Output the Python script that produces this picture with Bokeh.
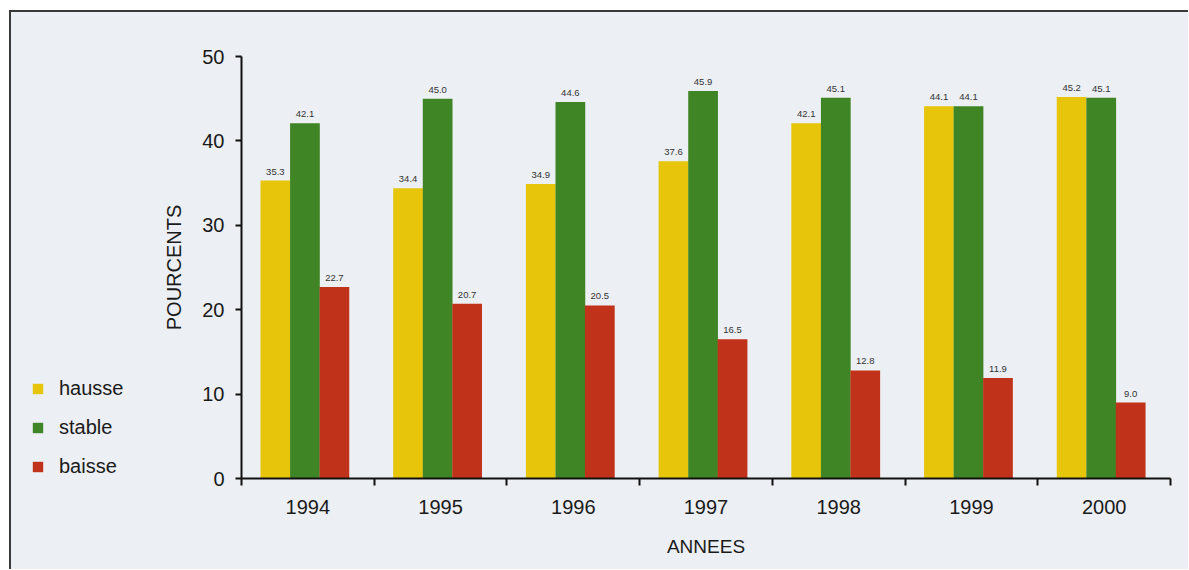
from bokeh.plotting import figure
from bokeh.layouts import row
from bokeh.models import ColumnDataSource, Range1d, FixedTicker, Legend, LegendItem
from bokeh.core.properties import value
from bokeh.embed import file_html
from bokeh.resources import INLINE

years = ["1994", "1995", "1996", "1997", "1998", "1999", "2000"]
series = ["hausse", "stable", "baisse"]
hausse = [35.3, 34.4, 34.9, 37.6, 42.1, 44.1, 45.2]
stable = [42.1, 45.0, 44.6, 45.9, 45.1, 44.1, 45.1]
baisse = [22.7, 20.7, 20.5, 16.5, 12.8, 11.9, 9.0]
y_ticks = [0, 10, 20, 30, 40, 50]

colors = ["#e6c50a", "#3f8526", "#c1321a"]
offsets = [-0.245, -0.022, 0.2]
bar_w = 0.224
FONT = "Liberation Sans"
BG = "#eceff3"
H = 557
LEG_W = 149

# ---------------- main chart ----------------
p = figure(width=1177 - LEG_W, height=H, output_backend="svg", toolbar_location=None,
           x_range=Range1d(0, len(years)), y_range=Range1d(0, 50),
           min_border_left=78, min_border_right=18, min_border_top=44, min_border_bottom=91)
p.background_fill_color = BG
p.border_fill_color = BG
p.outline_line_color = None
p.grid.visible = False

centers = [i + 0.5 for i in range(len(years))]
for vals, col, off in zip([hausse, stable, baisse], colors, offsets):
    src = ColumnDataSource(dict(x=[c + off for c in centers], top=vals,
                                label=["%.1f" % v for v in vals]))
    p.vbar(x="x", top="top", bottom=0, width=bar_w, source=src,
           fill_color=col, line_color=None)
    p.text(x="x", y="top", text="label", source=src, text_align="center",
           text_baseline="alphabetic", y_offset=-9, text_font_size="9.5px",
           text_font=value(FONT), text_color="#333333")

xa = p.xaxis[0]
xa.ticker = FixedTicker(ticks=centers, minor_ticks=list(range(len(years) + 1)))
xa.major_label_overrides = {c: y for c, y in zip(centers, years)}
xa.major_tick_line_color = None
xa.major_tick_out = 6
xa.major_tick_in = 0
xa.minor_tick_out = 7
xa.minor_tick_in = 0
xa.minor_tick_line_color = "#111111"
xa.minor_tick_line_width = 2
xa.axis_line_color = "#111111"
xa.axis_line_width = 2
xa.major_label_text_font = FONT
xa.major_label_text_font_size = "20px"
xa.major_label_text_color = "#1a1a1a"
xa.major_label_standoff = 14
xa.axis_label = "ANNEES"
xa.axis_label_text_font = FONT
xa.axis_label_text_font_size = "19px"
xa.axis_label_text_font_style = "normal"
xa.axis_label_text_color = "#1a1a1a"
xa.axis_label_standoff = 19

ya = p.yaxis[0]
ya.ticker = FixedTicker(ticks=y_ticks)
ya.minor_tick_line_color = None
ya.major_tick_out = 6
ya.major_tick_in = 0
ya.major_tick_line_color = "#111111"
ya.major_tick_line_width = 2
ya.axis_line_color = "#111111"
ya.axis_line_width = 2
ya.major_label_text_font = FONT
ya.major_label_text_font_size = "20px"
ya.major_label_text_color = "#1a1a1a"
ya.major_label_standoff = 11
ya.axis_label = "POURCENTS"
ya.axis_label_text_font = FONT
ya.axis_label_text_font_size = "20px"
ya.axis_label_text_font_style = "normal"
ya.axis_label_text_color = "#1a1a1a"
ya.axis_label_standoff = 14

# ---------------- legend panel ----------------
lp = figure(width=LEG_W, height=H, output_backend="svg", toolbar_location=None,
            x_range=Range1d(0, 1), y_range=Range1d(0, 1),
            x_axis_location=None, y_axis_location=None,
            min_border=0, min_border_left=0, min_border_right=0,
            min_border_top=0, min_border_bottom=0)
lp.grid.visible = False
lp.background_fill_alpha = 0
lp.border_fill_color = BG
lp.outline_line_color = None
items = []
for s, col in zip(series, colors):
    # zero-height bar: invisible, only feeds the legend swatch
    r = lp.vbar(x=[0.5], top=[0], bottom=[0], width=0.1, fill_color=col, line_color=None)
    items.append(LegendItem(label=s, renderers=[r]))
legend = Legend(items=items, location=(20, 0), orientation="vertical",
                glyph_width=13, glyph_height=13, label_standoff=15,
                label_height=20, spacing=16, padding=0, margin=0,
                label_text_font=FONT, label_text_font_size="20px",
                label_text_color="#1a1a1a", label_text_baseline="middle",
                border_line_color=None, background_fill_alpha=0)
lp.add_layout(legend)

layout = row(lp, p, styles={"margin-left": "9px", "margin-top": "10px",
                            "background-color": BG,
                            "border-top": "2px solid #3a3a3a",
                            "border-left": "2px solid #3a3a3a"})

open("out.html", "w").write(file_html(layout, INLINE))
